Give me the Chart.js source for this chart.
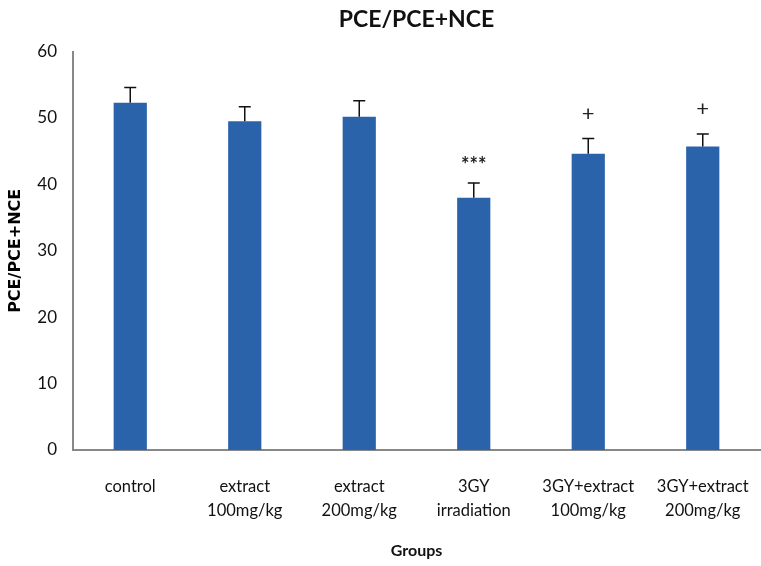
<!DOCTYPE html>
<html>
<head>
<meta charset="utf-8">
<script src="https://cdn.jsdelivr.net/npm/chart.js@4/dist/chart.umd.min.js"></script>
<style>
    html, body { margin: 0; padding: 0; background: #fff; }
    #wrap { width: 761px; height: 566px; }
</style>
</head>
<body>
<div id="wrap"><canvas id="chart"></canvas></div>
<script>
const groups = [
    'control',
    ['extract', '100mg/kg'],
    ['extract', '200mg/kg'],
    ['3GY', 'irradiation'],
    ['3GY+extract', '100mg/kg'],
    ['3GY+extract', '200mg/kg']
];
const means = [52.3, 49.5, 50.2, 38.0, 44.6, 45.7];
const errors = [2.3, 2.2, 2.4, 2.2, 2.3, 1.9];
const marks = ['', '', '', '***', '+', '+'];
const yTicks = [0, 10, 20, 30, 40, 50, 60];

const fontName = 'Lato';

// draws the upward error bars and the significance marks
const errorBars = {
    id: 'errorBars',
    afterDatasetsDraw(chart) {
        const ctx = chart.ctx;
        const y = chart.scales.y;
        const meta = chart.getDatasetMeta(0);
        ctx.save();
        ctx.strokeStyle = '#111';
        ctx.lineWidth = 1.5;
        meta.data.forEach(function (bar, i) {
            const top = y.getPixelForValue(means[i]);
            const end = y.getPixelForValue(means[i] + errors[i]);
            ctx.beginPath();
            ctx.moveTo(bar.x, top);
            ctx.lineTo(bar.x, end);
            ctx.moveTo(bar.x - 6, end);
            ctx.lineTo(bar.x + 6, end);
            ctx.stroke();
            if (marks[i]) {
                ctx.fillStyle = '#222';
                ctx.textAlign = 'center';
                ctx.textBaseline = 'bottom';
                ctx.font = marks[i] === '+' ? '22px ' + fontName : 'bold 20px ' + fontName;
                ctx.fillText(marks[i], bar.x, end - (marks[i] === '+' ? 14 : 8));
            }
        });
        ctx.restore();
    }
};

new Chart(document.getElementById('chart'), {
    type: 'bar',
    data: {
        labels: groups,
        datasets: [{
            data: means,
            backgroundColor: '#2B63AB',
            categoryPercentage: 1,
            barPercentage: 0.29
        }]
    },
    options: {
        responsive: true,
        maintainAspectRatio: false,
        animation: false,
        layout: { padding: { left: 0, right: 1, top: 0, bottom: 6 } },
        plugins: {
            legend: { display: false },
            tooltip: { enabled: false },
            title: {
                display: true,
                text: 'PCE/PCE+NCE',
                fullSize: false,
                color: '#111',
                font: { family: fontName, size: 23, weight: 'bold' },
                padding: { top: 6, bottom: 18 }
            }
        },
        scales: {
            x: {
                grid: { display: false, drawTicks: false },
                border: { color: '#888', width: 2 },
                ticks: {
                    color: '#111',
                    font: { family: fontName, size: 16.5, lineHeight: 1.5 },
                    padding: 24,
                    maxRotation: 0,
                    autoSkip: false
                },
                title: {
                    display: true,
                    text: 'Groups',
                    color: '#111',
                    font: { family: fontName, size: 16, weight: 'bold' },
                    padding: { top: 8, bottom: 0 }
                },
                afterFit: function (scale) {
                    scale.height = 110;
                    scale.paddingLeft = 0;
                    scale.paddingRight = 0;
                }
            },
            y: {
                min: 0,
                max: 60,
                afterBuildTicks: function (scale) {
                    scale.ticks = yTicks.map(v => ({ value: v }));
                },
                grid: { display: false, drawOnChartArea: false, drawTicks: true, tickLength: 7, color: '#888' },
                border: { color: '#888', width: 2 },
                ticks: {
                    color: '#111',
                    font: { family: fontName, size: 17 },
                    padding: 9
                },
                title: {
                    display: true,
                    text: 'PCE/PCE+NCE',
                    color: '#000',
                    font: { family: 'DejaVu Sans', size: 16, weight: 'bold' },
                    padding: { top: 6, bottom: 0 }
                },
                afterFit: function (scale) { scale.width = 73; }
            }
        }
    },
    plugins: [errorBars]
});
</script>
</body>
</html>
